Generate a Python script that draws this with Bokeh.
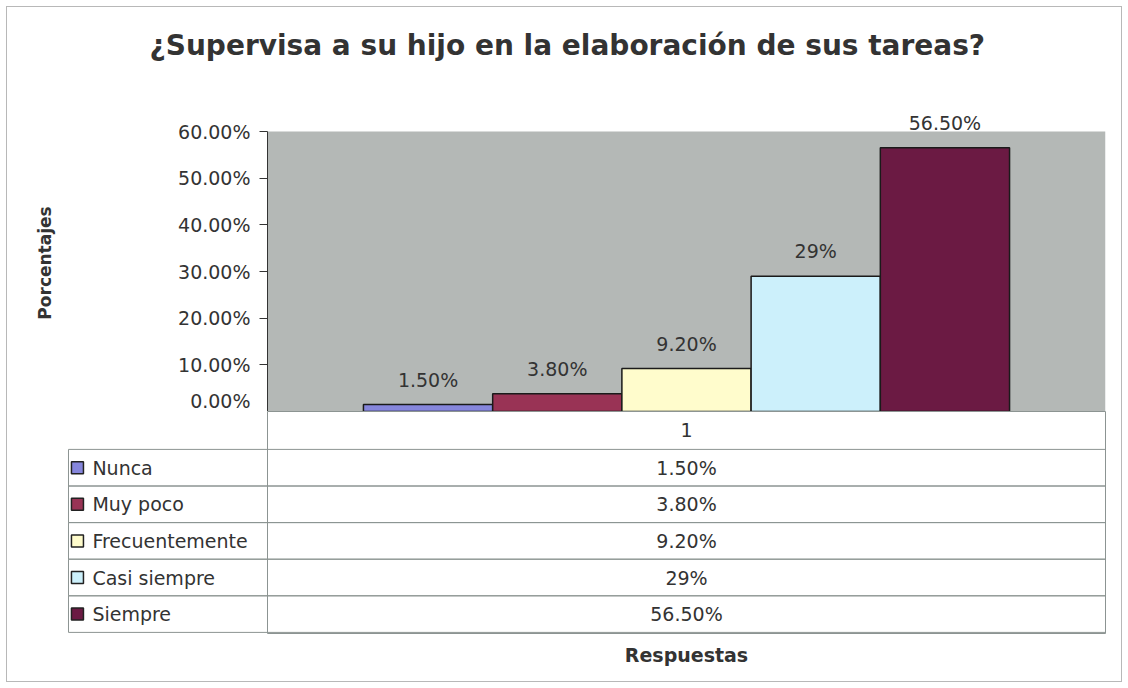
from bokeh.plotting import figure
from bokeh.models import (Range1d, FactorRange, FixedTicker, NumeralTickFormatter,
                          BoxAnnotation, Title, ColumnDataSource)
from bokeh.layouts import column, row
from bokeh.core.properties import value
from bokeh.embed import file_html
from bokeh.resources import INLINE

# ---------------- data ----------------
title_text = "¿Supervisa a su hijo en la elaboración de sus tareas?"
categories = ["Nunca", "Muy poco", "Frecuentemente", "Casi siempre", "Siempre"]
values = [0.015, 0.038, 0.092, 0.29, 0.565]
value_labels = ["1.50%", "3.80%", "9.20%", "29%", "56.50%"]
bar_colors = ["#8686dc", "#993355", "#fffccc", "#ccf0fb", "#6b1a43"]
series_name = "1"
y_ticks = [0.0, 0.1, 0.2, 0.3, 0.4, 0.5, 0.6]
y_label = "Porcentajes"
x_label = "Respuestas"

FONT = "DejaVu Sans"
TXT = "#333333"
GRID = "#8c9492"

def bare(fig):
    fig.xgrid.visible = False
    fig.ygrid.visible = False
    fig.border_fill_color = "white"
    fig.background_fill_color = "white"

# ---------------- chart ----------------
src = ColumnDataSource(dict(cat=categories, val=values, lab=value_labels, col=bar_colors))
top = figure(width=1112, height=403, output_backend="svg", toolbar_location=None,
             x_range=FactorRange(*categories, range_padding=0.297),
             y_range=Range1d(0, 0.6 * 297 / 280),
             x_axis_location=None,
             min_border_left=259, min_border_right=15,
             min_border_top=106, min_border_bottom=0)
bare(top)
top.outline_line_color = None

top.add_layout(BoxAnnotation(bottom=0, top=0.6, fill_color="#b4b8b6", fill_alpha=1.0,
                             line_color=None, level="underlay"))

top.vbar(x="cat", top="val", width=1.0, fill_color="col", source=src,
         line_color="#1a1a1a", line_width=1.5)
top.text(x="cat", y="val", text="lab", source=src, y_offset=-25,
         text_align="center", text_baseline="alphabetic",
         text_font=value(FONT), text_font_size="19px", text_color=TXT)

ya = top.yaxis[0]
ya.ticker = FixedTicker(ticks=y_ticks, minor_ticks=[])
ya.formatter = NumeralTickFormatter(format="0.00%")
ya.bounds = (0, 0.6)
ya.axis_line_color = "#333333"
ya.major_tick_line_color = "#333333"
ya.major_tick_out = 8
ya.major_tick_in = 0
ya.minor_tick_line_color = None
ya.major_label_text_font = FONT
ya.major_label_text_font_size = "19px"
ya.major_label_text_color = TXT
ya.major_label_standoff = 9
ya.axis_label = y_label
ya.axis_label_text_font = FONT
ya.axis_label_text_font_size = "17px"
ya.axis_label_text_font_style = "bold"
ya.axis_label_text_color = TXT
ya.axis_label_standoff = 120

# spacer between frame and title, then the title itself
top.add_layout(Title(text=" ", text_font_size="10px", standoff=28), "above")
top.add_layout(Title(text=title_text, align="left", offset=-118, vertical_align="top",
                     standoff=20, text_font=FONT, text_font_size="28px",
                     text_font_style="bold", text_color=TXT), "above")

# ---------------- data table ----------------
n = len(categories)
row_idx = [n - 1 - i for i in range(n)]          # first category on top
row_bottom = row_idx
row_top = [r + 1 for r in row_idx]
row_mid = [r + 0.5 for r in row_idx]
header_h = 39 / 36.6
eps = 0.03

leg = figure(width=259, height=269, output_backend="svg", toolbar_location=None,
             x_range=Range1d(-1, 200), y_range=Range1d(-eps, n + header_h - eps),
             x_axis_location=None, y_axis_location=None,
             min_border_left=59, min_border_right=0,
             min_border_top=0, min_border_bottom=47)
bare(leg)
leg.outline_line_color = None
leg.quad(left=0, right=201, bottom=row_bottom, top=row_top, fill_color=None,
         line_color=GRID, line_width=1)
leg.scatter(x=9, y=row_mid, marker="square", size=12, fill_color=bar_colors,
            line_color="#222222", line_width=1.5)
leg.text(x=24, y=row_mid, text=categories, text_align="left", text_baseline="middle",
         text_font=value(FONT), text_font_size="19px", text_color=TXT)

val = figure(width=853, height=269, output_backend="svg", toolbar_location=None,
             x_range=Range1d(0, 1), y_range=Range1d(-eps, n + header_h - eps),
             y_axis_location=None,
             min_border_left=0, min_border_right=15,
             min_border_top=0, min_border_bottom=47)
bare(val)
val.outline_line_color = GRID
val.quad(left=0, right=1, bottom=row_bottom, top=row_top, fill_color=None,
         line_color=GRID, line_width=1)
val.text(x=0.5, y=row_mid, text=value_labels, text_align="center", text_baseline="middle",
         text_font=value(FONT), text_font_size="19px", text_color=TXT)
val.text(x=[0.5], y=[n + header_h / 2], text=[series_name], text_align="center",
         text_baseline="middle", text_font=value(FONT), text_font_size="19px", text_color=TXT)

xa = val.xaxis[0]
xa.ticker = FixedTicker(ticks=[])
xa.axis_line_color = None
xa.major_tick_line_color = None
xa.minor_tick_line_color = None
xa.major_tick_out = 0
xa.major_label_text_font_size = "0px"
xa.major_label_standoff = 0
xa.axis_label = x_label
xa.axis_label_text_font = FONT
xa.axis_label_text_font_size = "19px"
xa.axis_label_text_font_style = "bold"
xa.axis_label_text_color = TXT
xa.axis_label_standoff = 10

layout = column(top, row(leg, val, spacing=0), spacing=0,
                styles={"margin": "8px", "outline": "1px solid #b8b8b8",
                        "outline-offset": "1px"})

open("out.html", "w").write(file_html(layout, INLINE))
